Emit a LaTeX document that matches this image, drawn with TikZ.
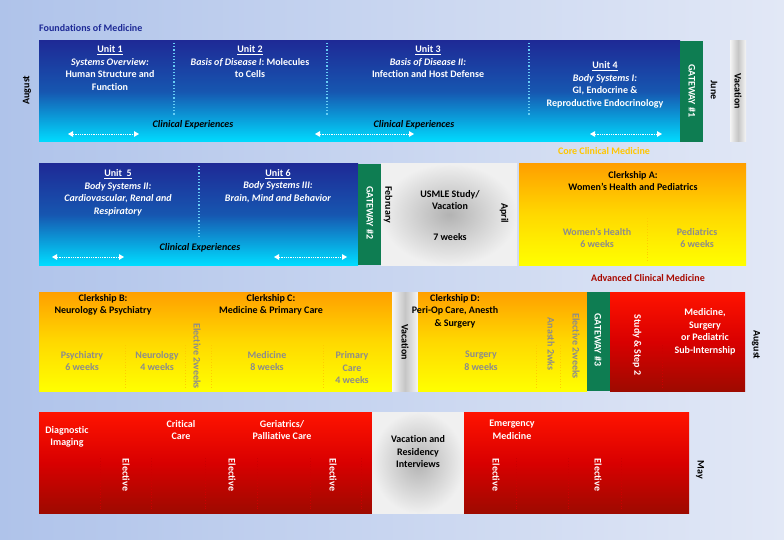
\documentclass[tikz,border=0pt]{standalone}
\usepackage{fontspec}
\setmainfont{Carlito}[Ligatures={NoCommon,NoRare}]
\usetikzlibrary{arrows.meta}
\definecolor{navy}{HTML}{1E2A96}
\definecolor{sky}{HTML}{00DCFF}
\definecolor{gate}{HTML}{0E7D52}
\definecolor{dred}{HTML}{9E0A00}
\definecolor{wk}{HTML}{8C8C8C}
\definecolor{bgl}{HTML}{AFC3EA}
\definecolor{bgr}{HTML}{E2E8F6}
\tikzset{
  unit/.style={top color=navy, bottom color=sky, middle color=navy!75!sky},
  clerk/.style={top color=orange!75!yellow, bottom color=yellow, middle color=orange!30!yellow},
  adv/.style={top color=red!85!orange, bottom color=dred, middle color=red!85!black},
  gw/.style={fill=gate},
  vac/.style={left color=gray!8, right color=gray!8, middle color=gray!45},
  study/.style={inner color=gray!60, outer color=gray!12},
  txt/.style={font=\bfseries\fontsize{10}{12.5}\selectfont, align=center, inner sep=0pt},
  wtxt/.style={txt, text=white},
  wk/.style={txt, text=wk},
  itx/.style={txt, font=\bfseries\itshape\fontsize{10}{12.5}\selectfont},
  rot/.style={rotate=-90},
  bdiv/.style={dotted, very thick, cyan!60!white},
  ydiv/.style={dotted, thick, orange!40!yellow},
  rdiv/.style={dotted, thick, red!80!black},
  span/.style={densely dotted, thick, white, {Triangle[length=5pt]}-{Triangle[length=5pt]}}
}
\begin{document}
\begin{tikzpicture}[x=1pt,y=1pt,yscale=-1]
\shade[left color=bgl, right color=bgr] (0,0) rectangle (784,540);
\useasboundingbox (0,0) rectangle (784,540);

% Foundations, first part
\node[txt, text=navy, anchor=west] (fom) at (39,28) {Foundations of Medicine};
\shade[unit] (39,41) rectangle (680,142);
\fill[gw] (680,41) rectangle (703,142);
\shade[vac] (730,41) rectangle (746,142);
\foreach \x in {174,327,529} \draw[bdiv] (\x,43) -- (\x,115);
\node[wtxt] (u1) at (110,68) {\underline{Unit 1}\\\textit{Systems Overview:}\\Human Structure and\\Function};
\node[wtxt] (u2) at (250,62) {\underline{Unit 2}\\\textit{Basis of Disease I}: Molecules\\to Cells};
\node[wtxt] (u3) at (428,62) {\underline{Unit 3}\\\textit{Basis of Disease II:}\\Infection and Host Defense};
\node[wtxt] (u4) at (605,85) {\underline{Unit 4}\\\textit{Body Systems I:}\\GI, Endocrine \&\\Reproductive Endocrinology};
\node[itx] (ce1) at (193,125) {Clinical Experiences};
\node[itx] (ce2) at (414,125) {Clinical Experiences};
\coordinate (a1) at (68,134); \coordinate (b1) at (139,134);
\coordinate (a2) at (315,134); \coordinate (b2) at (414,134);
\coordinate (a3) at (590,134); \coordinate (b3) at (662,134);
\draw[span] (a1) -- (b1);
\draw[span] (a2) -- (b2);
\draw[span] (a3) -- (b3);
\node[wtxt, rot] (g1) at (692,91) {GATEWAY \#1};
\node[txt, rot] (jun) at (714,90) {June};
\node[txt, rot] (v1) at (738,91) {Vacation};
\node[txt, rotate=90] (aug1) at (27,90) {August};
\node[txt, text=orange!45!yellow] (ccm) at (604,151) {Core Clinical Medicine};

% Foundations, second part and clerkship A
\shade[unit] (39,164) rectangle (358,265);
\fill[gw] (358,164) rectangle (381,265);
\shade[study] (381,164) rectangle (517,265);
\shade[clerk] (519,164) rectangle (746,265);
\draw[bdiv] (199,166) -- (199,237);
\draw[ydiv] (647,218) -- (647,262);
\node[wtxt] (u5) at (118,193) {\underline{Unit\ \ 5}\\\textit{Body Systems II:}\\\textit{Cardiovascular, Renal and}\\\textit{Respiratory}};
\node[wtxt] (u6) at (278,186) {\underline{Unit 6}\\\textit{Body Systems III:}\\\textit{Brain, Mind and Behavior}};
\node[itx] (ce3) at (200,248) {Clinical Experiences};
\coordinate (a4) at (52,257); \coordinate (b4) at (124,257);
\coordinate (a5) at (274,257); \coordinate (b5) at (347,257);
\draw[span] (a4) -- (b4);
\draw[span] (a5) -- (b5);
\node[wtxt, rot] (g2) at (370,213) {GATEWAY \#2};
\node[txt, rot] (feb) at (388,205) {February};
\node[txt] (usmle) at (450,200) {USMLE Study/\\Vacation};
\node[txt] (sev) at (450,237) {7 weeks};
\node[txt, rot] (apr) at (504,213) {April};
\node[txt] (cka) at (633,181) {Clerkship A:\\Women’s Health and Pediatrics};
\node[wk] (wh) at (597,238) {Women’s Health\\6 weeks};
\node[wk] (ped) at (697,238) {Pediatrics\\6 weeks};
\node[txt, text=dred!90!red] (acm) at (648,278) {Advanced Clinical Medicine};

% Clerkships B, C, D and sub-internship
\shade[clerk] (39,292) rectangle (392,391);
\shade[vac] (392,292) rectangle (418,391);
\shade[clerk] (418,292) rectangle (587,391);
\fill[gw] (587,292) rectangle (610,391);
\shade[adv] (610,292) rectangle (745,391);
\foreach \x in {125,185,211,323,536,560} \draw[ydiv] (\x,345) -- (\x,388);
\draw[rdiv] (662,345) -- (662,388);
\node[txt] (ckb) at (103,305) {Clerkship B:\\Neurology \& Psychiatry};
\node[txt] (ckc) at (271,305) {Clerkship C:\\Medicine \& Primary Care};
\node[wk] (psy) at (82,361) {Psychiatry\\6 weeks};
\node[wk] (neu) at (157,361) {Neurology\\4 weeks};
\node[wk, rot] (el1) at (197,356) {Elective 2weeks};
\node[wk] (med) at (267,361) {Medicine\\8 weeks};
\node[wk] (pc) at (352,368) {Primary\\Care\\4 weeks};
\node[txt, rot] (v2) at (405,342) {Vacation};
\node[txt] (ckd) at (455,311) {Clerkship D:\\Peri-Op Care, Anesth\\\& Surgery};
\node[wk] (sur) at (481,361) {Surgery\\8 weeks};
\node[wk, rot] (ana) at (551,344) {Anasth 2wks};
\node[wk, rot] (el2) at (576,346) {Elective 2weeks};
\node[wtxt, rot] (g3) at (598,340) {GATEWAY \#3};
\node[wtxt, rot] (st) at (637,345) {Study \& Step 2};
\node[wtxt] (sub) at (705,332) {Medicine,\\Surgery\\or Pediatric\\Sub-Internship};
\node[txt, rot] (aug2) at (756,345) {August};

% Advanced clinical medicine
\shade[adv] (39,412) rectangle (372,513);
\shade[study] (372,412) rectangle (464,513);
\shade[adv] (464,412) rectangle (689,513);
\foreach \x in {100,151,205,257,310,361,516,568,621} \draw[rdiv] (\x,458) -- (\x,510);
\node[wtxt] (dim) at (67,437) {Diagnostic\\Imaging};
\node[wtxt] (cc) at (181,430) {Critical\\Care};
\node[wtxt] (ger) at (282,430) {Geriatrics/\\Palliative Care};
\node[wtxt] (em) at (512,430) {Emergency\\Medicine};
\foreach \x in {126,232,333,496,598} \node[wtxt, rot] at (\x,475) {Elective};
\node[txt] (vri) at (418,452) {Vacation and\\Residency\\Interviews};
\node[txt, rot] (may) at (700,470) {May};
\end{tikzpicture}
\end{document}
